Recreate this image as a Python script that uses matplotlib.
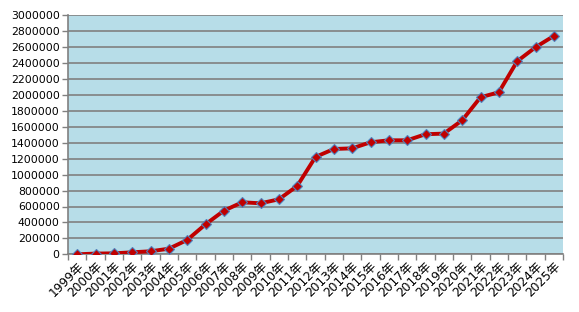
import matplotlib
matplotlib.use("Agg")
import matplotlib.pyplot as plt
import matplotlib.transforms as mtransforms
import numpy as np

plt.rcParams['font.family'] = ['DejaVu Sans', 'Noto Sans CJK SC']

years = [f"{y}年" for y in range(1999, 2026)]
values = [0, 9000, 12000, 25000, 38000, 70000, 180000, 376000, 547000, 653000,
          640000, 690000, 857000, 1222000, 1322000, 1330000, 1406000, 1431000,
          1431000, 1507000, 1515000, 1682000, 1971000, 2034000, 2423000,
          2599000, 2741000]
yticks = list(range(0, 3000001, 200000))

fig = plt.figure(figsize=(5.79, 3.12), dpi=100)
ax = fig.add_axes([68/579, 1-254.3/312, (563-68)/579, (254.3-15.3)/312])
ax.set_facecolor('#B7DDE8')

x = np.arange(len(years))
ax.plot(x, values, color='#C00000', lw=2.8, marker='D', markersize=5.5,
        markerfacecolor='#C00000', markeredgecolor='#4F81BD', markeredgewidth=0.8,
        zorder=3)

ax.set_xlim(-0.5, len(years) - 0.5)
ax.set_ylim(0, 3000000)
ax.set_yticks(yticks)
ax.set_yticklabels([str(v) for v in yticks], fontsize=7.8)
ax.yaxis.grid(True, color='#808080', lw=1.2)
ax.set_axisbelow(True)

ax.set_xticks(np.arange(-0.5, len(years) - 0.4, 1.0))
ax.set_xticklabels([])
ax.set_xticks(x, minor=True)
labs = ax.set_xticklabels(years, minor=True, rotation=45, ha='right', va='top',
                          rotation_mode='anchor', fontsize=8.8)
offset = mtransforms.ScaledTranslation(4/100, 0, fig.dpi_scale_trans)
for t in labs:
    t.set_transform(t.get_transform() + offset)
ax.tick_params(axis='x', which='minor', length=0, pad=4)
ax.tick_params(axis='x', which='major', length=4, color='#808080', width=1)
ax.tick_params(axis='y', length=4, color='#808080', width=1, pad=2)

for s in ['top', 'right']:
    ax.spines[s].set_visible(False)
for s in ['left', 'bottom']:
    ax.spines[s].set_color('#808080')
    ax.spines[s].set_linewidth(1.2)

fig.savefig('out.png', dpi=100)
